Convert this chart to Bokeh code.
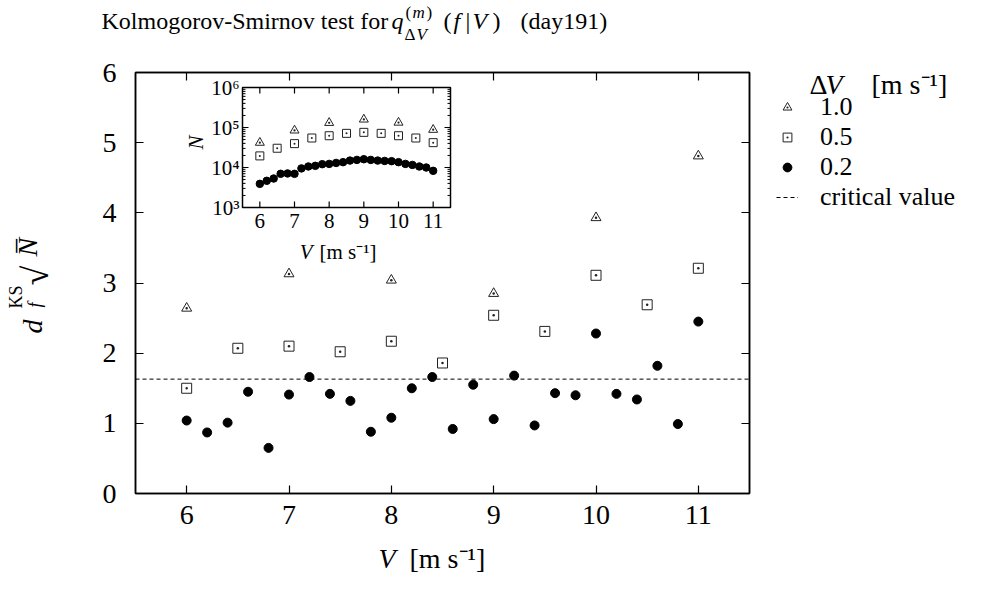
import math
from bokeh.plotting import figure
from bokeh.models import (Label, Legend, LegendItem, LinearAxis, FixedTicker,
                          Range1d, LogScale)
from bokeh.core.properties import value
from bokeh.layouts import column, row
from bokeh.embed import file_html
from bokeh.resources import INLINE

FONT = "Liberation Serif"

# ---------------- data ----------------
V_02 = [6.0, 6.2, 6.4, 6.6, 6.8, 7.0, 7.2, 7.4, 7.6, 7.8, 8.0, 8.2, 8.4,
        8.6, 8.8, 9.0, 9.2, 9.4, 9.6, 9.8, 10.0, 10.2, 10.4, 10.6, 10.8, 11.0]
KS_02 = [1.04, 0.87, 1.01, 1.45, 0.65, 1.41, 1.66, 1.42, 1.32, 0.88, 1.08, 1.50, 1.66,
         0.92, 1.55, 1.06, 1.68, 0.97, 1.43, 1.40, 2.28, 1.42, 1.34, 1.82, 0.99, 2.45]
N_02 = [3900, 4650, 5300, 6950, 7100, 6950, 9500, 10600, 11000, 12100, 12300, 13000, 13600,
        14900, 15500, 16100, 15500, 14900, 14600, 14400, 13600, 12300, 11600, 10600, 10000, 8250]

V_05 = [6.0, 6.5, 7.0, 7.5, 8.0, 8.5, 9.0, 9.5, 10.0, 10.5, 11.0]
KS_05 = [1.50, 2.07, 2.10, 2.02, 2.17, 1.86, 2.54, 2.31, 3.11, 2.69, 3.21]
N_05 = [19500, 30300, 39500, 54600, 62300, 71400, 75600, 71400, 62300, 54600, 41800]

V_10 = [6.0, 7.0, 8.0, 9.0, 10.0, 11.0]
KS_10 = [2.64, 3.13, 3.04, 2.85, 3.93, 4.81]
N_10 = [41800, 84600, 131000, 159000, 133000, 88000]

CRIT = 1.63
SERIES_LABELS = ["1.0", "0.5", "0.2", "critical value"]

X_RANGE = (5.5, 11.5)
Y_RANGE = (0, 6)
N_RANGE = (1e3, 1e6)
X_TICKS = [6, 7, 8, 9, 10, 11]
Y_TICKS = [0, 1, 2, 3, 4, 5, 6]
N_TICKS = [1e3, 1e4, 1e5, 1e6]
N_TICK_LABELS = ["10³", "10⁴", "10⁵", "10⁶"]
N_MINOR = [m * 10 ** e for e in (3, 4, 5) for m in range(2, 10)]

# ---------------- page layout (pixels) ----------------
W, H = 997, 590
TITLE_H = 52
YLAB_W = 60
MAIN_W, MAIN_H = 709, 491
MAIN_BL, MAIN_BR, MAIN_BT, MAIN_BB = 75, 20, 20, 50
FRAME_L = YLAB_W + MAIN_BL                     # 135
FRAME_T = TITLE_H + MAIN_BT                    # 72
FRAME_W = MAIN_W - MAIN_BL - MAIN_BR           # 614
FRAME_H = MAIN_H - MAIN_BT - MAIN_BB           # 421
FRAME_B = FRAME_T + FRAME_H                    # 493
INSET_L, INSET_R, INSET_T, INSET_B = 242, 450, 87, 207
BASE_K = 0.34   # alphabetic-baseline correction, in em


def text_fig(w, h):
    f = figure(width=w, height=h, x_range=Range1d(0, 1), y_range=Range1d(0, 1),
               output_backend="svg", toolbar_location=None,
               x_axis_location=None, y_axis_location=None,
               min_border=0, min_border_left=0, min_border_right=0,
               min_border_top=0, min_border_bottom=0,
               background_fill_color="white", border_fill_color="white")
    f.outline_line_color = None
    f.xgrid.grid_line_color = None
    f.ygrid.grid_line_color = None
    return f


def put(fig, origin, X, Y, text, size, style="normal", angle=0.0):
    """Place text whose baseline starts at page pixel (X, Y)."""
    ox, oy = origin
    if angle:
        X = X - BASE_K * size
    else:
        Y = Y - BASE_K * size
    fig.add_layout(Label(x=X - ox, y=oy - Y, x_units="screen", y_units="screen",
                         text=text, text_font=FONT, text_font_size=f"{size}px",
                         text_font_style=style, text_color="black",
                         text_align="left", text_baseline="alphabetic", angle=angle))


def style_axis(ax, size, standoff, blank=None):
    ax.axis_line_color = "black"
    ax.axis_line_width = 1.5
    ax.major_tick_in = 8
    ax.major_tick_out = 0
    ax.minor_tick_in = 0
    ax.minor_tick_out = 0
    ax.major_tick_line_color = "black"
    ax.major_tick_line_width = 1.2
    ax.major_label_text_font = FONT
    ax.major_label_text_color = "black"
    ax.major_label_standoff = standoff
    ax.major_label_text_font_size = f"{size}px"
    if blank is not None:
        ax.major_label_overrides = {t: "" for t in blank}

# ---------------- main figure ----------------
p = figure(width=MAIN_W, height=MAIN_H, x_range=Range1d(*X_RANGE), y_range=Range1d(*Y_RANGE),
           output_backend="svg", toolbar_location=None,
           min_border_left=MAIN_BL, min_border_right=MAIN_BR,
           min_border_top=MAIN_BT, min_border_bottom=MAIN_BB,
           background_fill_color="white", border_fill_color="white")
p.xgrid.grid_line_color = None
p.ygrid.grid_line_color = None
p.outline_line_color = "black"
p.outline_line_width = 1.5
p.xaxis.ticker = FixedTicker(ticks=X_TICKS)
p.yaxis.ticker = FixedTicker(ticks=Y_TICKS)
style_axis(p.xaxis[0], 28, 12)
style_axis(p.yaxis[0], 28, 19)
top_ax = LinearAxis(ticker=FixedTicker(ticks=X_TICKS))
right_ax = LinearAxis(ticker=FixedTicker(ticks=Y_TICKS))
style_axis(top_ax, 10, 0, blank=X_TICKS)
style_axis(right_ax, 10, 0, blank=Y_TICKS)
p.add_layout(top_ax, "above")
p.add_layout(right_ax, "right")

p.scatter(V_10, KS_10, marker="triangle_dot", size=10, fill_color=None,
          line_color="#222222", line_width=1)
p.scatter(V_05, KS_05, marker="square_dot", size=10, fill_color=None,
          line_color="#222222", line_width=1)
p.scatter(V_02, KS_02, marker="circle", size=9, fill_color="black", line_color="black")
p.line(list(X_RANGE), [CRIT, CRIT], line_color="black", line_width=1, line_dash="4 3")

# ---- inset drawn in the main frame through extra (linear / log) scales ----
xs_per_px = (X_RANGE[1] - X_RANGE[0]) / (INSET_R - INSET_L)
ix_start = X_RANGE[0] - (INSET_L - FRAME_L) * xs_per_px
ix_end = X_RANGE[1] + (FRAME_L + FRAME_W - INSET_R) * xs_per_px
dec_per_px = (math.log10(N_RANGE[1]) - math.log10(N_RANGE[0])) / (INSET_B - INSET_T)
iy_top = math.log10(N_RANGE[1]) + (INSET_T - FRAME_T) * dec_per_px
iy_bot = math.log10(N_RANGE[0]) - (FRAME_B - INSET_B) * dec_per_px
p.extra_x_ranges = {"ix": Range1d(ix_start, ix_end)}
p.extra_y_ranges = {"iy": Range1d(10 ** iy_bot, 10 ** iy_top)}
p.extra_y_scales = {"iy": LogScale()}
IR = dict(x_range_name="ix", y_range_name="iy")

p.quad(left=[X_RANGE[0]], right=[X_RANGE[1]], bottom=[N_RANGE[0]], top=[N_RANGE[1]],
       fill_color="white", line_color="black", line_width=1.5, **IR)
maj, mnr = 6, 3
dxm, dxn = maj * xs_per_px, mnr * xs_per_px
fym = 10 ** (maj * dec_per_px)
p.segment(x0=X_TICKS, x1=X_TICKS, y0=[N_RANGE[0]] * len(X_TICKS),
          y1=[N_RANGE[0] * fym] * len(X_TICKS), line_color="black", line_width=1.2, **IR)
p.segment(x0=X_TICKS, x1=X_TICKS, y0=[N_RANGE[1]] * len(X_TICKS),
          y1=[N_RANGE[1] / fym] * len(X_TICKS), line_color="black", line_width=1.2, **IR)
for ticks, d in ((N_TICKS, dxm), (N_MINOR, dxn)):
    p.segment(x0=[X_RANGE[0]] * len(ticks), x1=[X_RANGE[0] + d] * len(ticks),
              y0=ticks, y1=ticks, line_color="black", line_width=1.0, **IR)
    p.segment(x0=[X_RANGE[1]] * len(ticks), x1=[X_RANGE[1] - d] * len(ticks),
              y0=ticks, y1=ticks, line_color="black", line_width=1.0, **IR)
TXT = dict(text_font=value(FONT), text_color="black")
p.text(x=X_TICKS, y=[N_RANGE[0]] * len(X_TICKS), text=[str(t) for t in X_TICKS],
       text_font_size=value("21px"), text_align="center", text_baseline="top",
       y_offset=6, **TXT, **IR)
p.text(x=[X_RANGE[0]] * len(N_TICKS), y=N_TICKS, text=N_TICK_LABELS,
       text_font_size=value("21px"), text_align="right", text_baseline="middle",
       x_offset=-3, **TXT, **IR)
# inset axis titles
x_mid = (X_RANGE[0] + X_RANGE[1]) / 2
n_mid = math.sqrt(N_RANGE[0] * N_RANGE[1])
p.text(x=[x_mid], y=[N_RANGE[0]], text=["V"], text_font_size=value("21px"),
       text_font_style="italic", text_align="right", text_baseline="alphabetic",
       x_offset=-34, y_offset=44, **TXT, **IR)
p.text(x=[x_mid], y=[N_RANGE[0]], text=["[m s⁻¹]"], text_font_size=value("21px"),
       text_align="left", text_baseline="alphabetic", x_offset=-27, y_offset=44, **TXT, **IR)
p.text(x=[X_RANGE[0]], y=[n_mid], text=["N"], text_font_size=value("21px"),
       text_font_style="italic", text_align="center", text_baseline="alphabetic",
       angle=math.pi / 2, x_offset=-47, y_offset=-5, **TXT, **IR)

p.scatter(V_10, N_10, marker="triangle_dot", size=9, fill_color=None,
          line_color="#222222", line_width=1, **IR)
p.scatter(V_05, N_05, marker="square_dot", size=8, fill_color=None,
          line_color="#222222", line_width=1, **IR)
p.scatter(V_02, N_02, marker="circle", size=7.5, fill_color="black",
          line_color="black", **IR)

R = math.pi / 2

# ---------------- title ----------------
t = text_fig(W, TITLE_H)
TO = (0, TITLE_H)
put(t, TO, 101, 29, "Kolmogorov-Smirnov test for", 24)
put(t, TO, 391, 29, "q", 24, "italic")
put(t, TO, 405, 18, "(", 17)
put(t, TO, 412, 18, "m", 17, "italic")
put(t, TO, 426, 18, ")", 17)
put(t, TO, 404, 40, "Δ", 17)
put(t, TO, 416, 40, "V", 17, "italic")
put(t, TO, 443, 29, "(", 24)
put(t, TO, 453, 29, "f", 24, "italic")
put(t, TO, 465, 29, "|", 24)
put(t, TO, 472, 29, "V", 24, "italic")
put(t, TO, 492, 29, ")", 24)
put(t, TO, 520, 29, "(day191)", 24)

# ---------------- y label (its frame is aligned with the main frame) ----------------
yl = text_fig(YLAB_W, MAIN_H)
YO = (0, FRAME_B)
put(yl, YO, 42, 333, "d", 28, "italic", R)
put(yl, YO, 22, 308, "KS", 18, "normal", R)
put(yl, YO, 41, 307, "f", 18, "italic", R)
put(yl, YO, 48, 285, "√", 36, "normal", R)
put(yl, YO, 37, 256, "N̅", 28, "italic", R)

# ---------------- legend panel ----------------
LEG_W = W - YLAB_W - MAIN_W
lg = text_fig(LEG_W, MAIN_H)
LO = (YLAB_W + MAIN_W, FRAME_B)
# legend proxies: the same series, lying outside this panel's unit ranges
g10 = lg.scatter(V_10, KS_10, marker="triangle_dot", size=9, fill_color=None,
                 line_color="#222222", line_width=1)
g05 = lg.scatter(V_05, KS_05, marker="square_dot", size=9, fill_color=None,
                 line_color="#222222", line_width=1)
g02 = lg.scatter(V_02, KS_02, marker="circle", size=9, fill_color="black", line_color="black")
gcr = lg.line(list(X_RANGE), [CRIT, CRIT], line_color="black", line_width=1, line_dash="4 3")
legend = Legend(items=[LegendItem(label=SERIES_LABELS[0], renderers=[g10]),
                       LegendItem(label=SERIES_LABELS[1], renderers=[g05]),
                       LegendItem(label=SERIES_LABELS[2], renderers=[g02]),
                       LegendItem(label=SERIES_LABELS[3], renderers=[gcr])],
                location=(776 - LO[0], LO[1] - 212), label_text_font=FONT,
                label_text_font_size="26px", label_text_color="black",
                glyph_width=22, glyph_height=28, label_standoff=22, spacing=0,
                padding=0, margin=0, border_line_color=None, background_fill_alpha=0)
lg.add_layout(legend)
put(lg, LO, 809, 94, "Δ", 28)
put(lg, LO, 825, 94, "V", 28, "italic")
put(lg, LO, 871, 94, "[m s⁻¹]", 28)

# ---------------- x label ----------------
XLAB_H = H - TITLE_H - MAIN_H
xl = text_fig(W, XLAB_H)
XO = (0, H)
put(xl, XO, 378, 568, "V", 28, "italic")
put(xl, XO, 409, 568, "[m s⁻¹]", 28)

page = column(t, row(yl, p, lg), xl)
open("out.html", "w").write(file_html(page, INLINE))
